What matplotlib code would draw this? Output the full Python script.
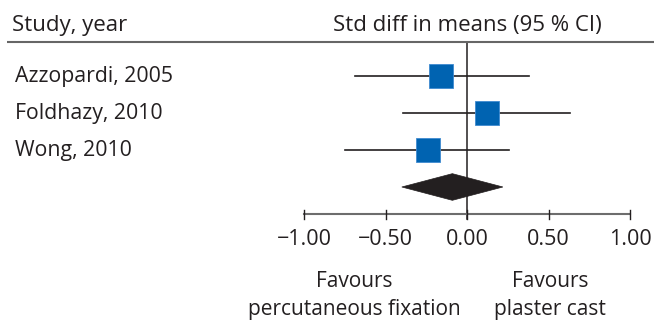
import numpy as np
import matplotlib
matplotlib.use("Agg")
import matplotlib.pyplot as plt
from matplotlib.patches import Polygon

plt.rcParams['font.family'] = ['Open Sans', 'DejaVu Sans']

# Study-level standardized mean differences with 95% CI
studies = ["Azzopardi, 2005", "Foldhazy, 2010", "Wong, 2010"]
smd = [-0.16, 0.12, -0.24]
ci_low = [-0.69, -0.39, -0.75]
ci_high = [0.38, 0.63, 0.26]

# Pooled estimate (diamond)
pooled = -0.09
pooled_low = -0.40
pooled_high = 0.22

ticks = [-1.0, -0.5, 0.0, 0.5, 1.0]
tick_labels = ["\u22121.00", "\u22120.50", "0.00", "0.50", "1.00"]

ink = "#231f20"
blue = "#0063b1"

fig = plt.figure(figsize=(6.54, 3.2), dpi=100)
ax = fig.add_axes([0, 0, 1, 1])
ax.set_xlim(-2.865, 1.147)
ax.set_ylim(6.595, -2.054)
ax.axis("off")

# header
ax.text(-2.79, -1.37, "Study, year", fontsize=16, color=ink, va="center", ha="left")
ax.text(0.0, -1.37, "Std diff in means (95 % CI)", fontsize=16, color=ink, va="center", ha="center")
ax.plot([-2.82, 1.147], [-0.92, -0.92], color="#666666", lw=1.5, solid_capstyle="butt")

# reference line at zero
ax.plot([0, 0], [-0.92, 3.87], color=ink, lw=1.1, zorder=1)

# individual studies
for i, name in enumerate(studies):
    ax.text(-2.775, i + 0.02, name, fontsize=15.3, color=ink, va="center", ha="left")
    ax.plot([ci_low[i], ci_high[i]], [i, i], color=ink, lw=1.2, zorder=2)
    ax.plot(smd[i], i, marker="s", markersize=17.5, color=blue,
            markeredgecolor="#3f8ad0", markeredgewidth=0.6, zorder=3)

# pooled diamond
yp = len(studies)
h = 0.36
diamond = Polygon([[pooled_low, yp], [pooled, yp - h], [pooled_high, yp], [pooled, yp + h]],
                  closed=True, facecolor=ink, edgecolor=ink, lw=0.5, zorder=3)
ax.add_patch(diamond)

# x axis
y_axis = 3.73
ax.plot([ticks[0], ticks[-1]], [y_axis, y_axis], color="#6d6d6d", lw=1.5, zorder=1)
for t, lab in zip(ticks, tick_labels):
    ax.plot([t, t], [y_axis - 0.11, y_axis + 0.13], color=ink, lw=1.0)
    ax.text(t, 4.42, lab, fontsize=15.5, color=ink, ha="center", va="center")

ax.text(-0.69, 5.56, "Favours", fontsize=15, color=ink, ha="center", va="center")
ax.text(-0.69, 6.32, "percutaneous fixation", fontsize=15, color=ink, ha="center", va="center")
ax.text(0.51, 5.56, "Favours", fontsize=15, color=ink, ha="center", va="center")
ax.text(0.51, 6.32, "plaster cast", fontsize=15, color=ink, ha="center", va="center")

fig.savefig("out.png", dpi=100, facecolor="white")
